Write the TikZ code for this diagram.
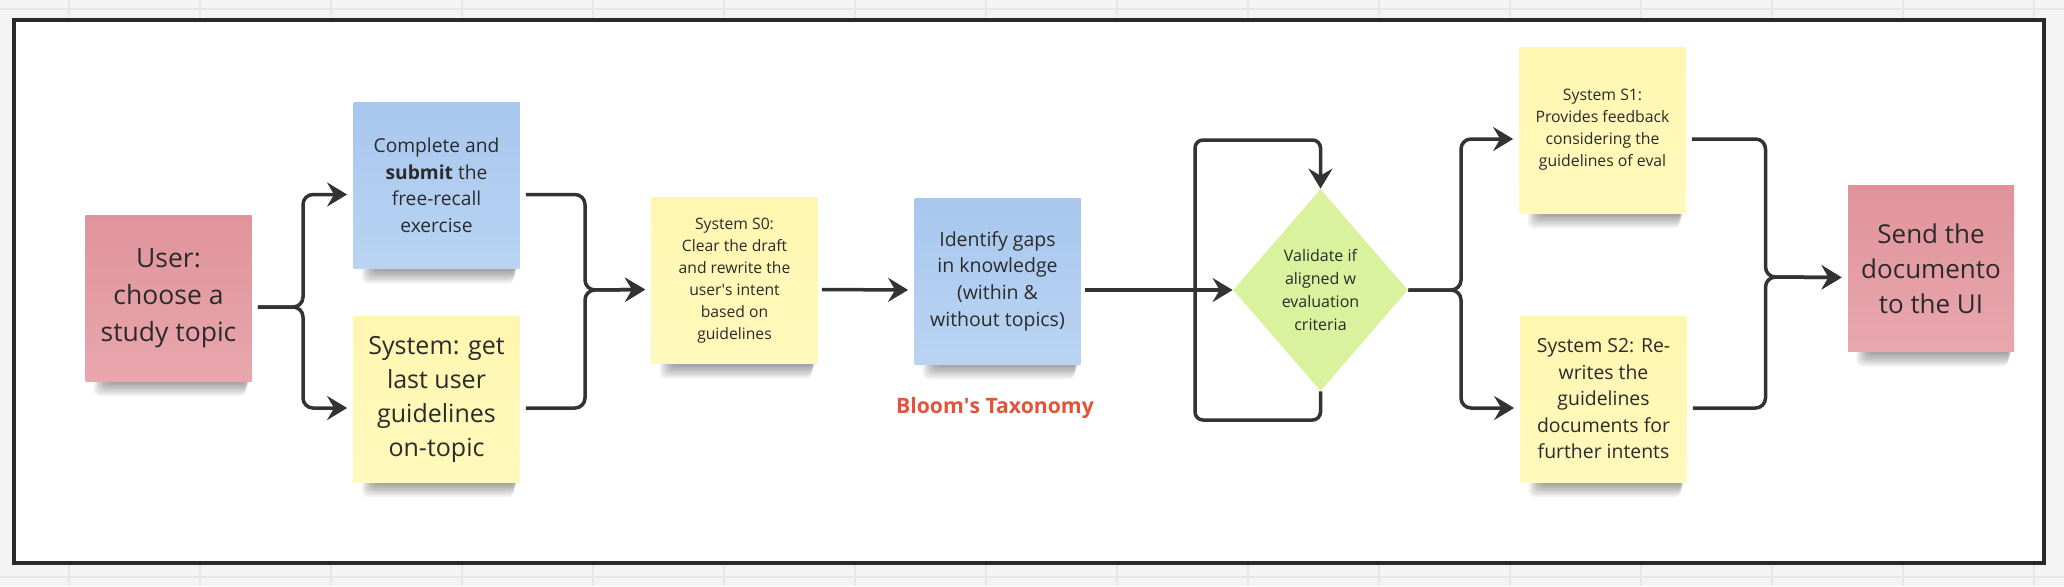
\documentclass[tikz,border=0pt]{standalone}
\usepackage{fontspec}
\setmainfont{Open Sans}
\newfontfamily\apfont{Open Sans}
\usetikzlibrary{arrows.meta,shapes.geometric,calc}
\definecolor{linec}{HTML}{333333}
\definecolor{txtc}{HTML}{2B2B2B}
\definecolor{pinkT}{HTML}{E0939A}
\definecolor{pinkB}{HTML}{E8A7AD}
\definecolor{blueT}{HTML}{A8C7EE}
\definecolor{blueB}{HTML}{B9D4F3}
\definecolor{yelT}{HTML}{FFF6B0}
\definecolor{yelB}{HTML}{FFF9BC}
\definecolor{greenc}{HTML}{DAF29E}
\definecolor{bloomc}{HTML}{E2553B}
\definecolor{gridbg}{HTML}{F4F4F4}
\definecolor{gridln}{HTML}{E6E6E6}
\definecolor{framec}{HTML}{2A2A2A}
\newcommand\fsz[2]{\fontsize{#1pt}{#2pt}\selectfont}
\newcommand\apos{{\apfont'}}
\pgfdeclarelayer{bg}
\pgfdeclarelayer{shad}
\pgfsetlayers{bg,shad,main}
\tikzset{
  note/.style={rectangle, inner sep=0pt, minimum width=83pt, minimum height=83pt, align=center, text=txtc},
  pinknote/.style={note, top color=pinkT, bottom color=pinkB},
  bluenote/.style={note, top color=blueT, bottom color=blueB},
  yelnote/.style={note, top color=yelT, bottom color=yelB},
  decision/.style={diamond, inner sep=0pt, minimum width=87.5pt, minimum height=101pt, fill=greenc, align=center, text=txtc},
  link/.style={draw=linec, line width=1.75pt, rounded corners=5pt},
  conn/.style={link, -{Stealth[length=10pt,width=12pt,inset=3.5pt]}},
}
\begin{document}
\begin{tikzpicture}[x=0.5pt,y=-0.5pt]
\useasboundingbox (0,0) rectangle (2064,586);
\begin{pgfonlayer}{bg}
  \fill[gridbg] (0,0) rectangle (2064,586);
  \foreach \gx in {69,200,...,2064} \draw[gridln, line width=0.6pt] (\gx,0) -- (\gx,586);
  \draw[gridln, line width=0.6pt] (0,9) -- (2064,9);
  \draw[gridln, line width=0.6pt] (0,577) -- (2064,577);
  \draw[framec, fill=white, line width=1.6pt] (14,20) rectangle (2044,563);
\end{pgfonlayer}

% notes
\node[pinknote, font=\fsz{13.25}{18.5}] (user) at (168.5,298) {User:\\choose a\\study topic};
\node[bluenote, font=\fsz{9.6}{13.25}] (submit) at (436.5,185.5) {Complete and\\\textbf{submit} the\\free-recall\\exercise};
\node[yelnote, font=\fsz{12.5}{17}] (getg) at (436.5,399) {System: get\\last user\\guidelines\\on-topic};
\node[yelnote, font=\fsz{7.85}{11}] (s0) at (734.5,280.5) {System S0:\\Clear the draft\\and rewrite the\\user\apos s intent\\based on\\guidelines};
\node[bluenote, font=\fsz{9.75}{13.3}] (gaps) at (997.5,281) {Identify gaps\\in knowledge\\(within \&\\without topics)};
\node[decision, font=\fsz{8}{11.5}] (valid) at (1320.5,290) {Validate if\\aligned w\\evaluation\\criteria};
\node[yelnote, font=\fsz{7.9}{11}] (s1) at (1602.5,130) {System S1:\\Provides feedback\\considering the\\guidelines of eval};
\node[yelnote, font=\fsz{9.7}{13.25}] (s2) at (1603.5,399) {System S2: Re-\\writes the\\guidelines\\documents for\\further intents};
\node[pinknote, font=\fsz{13}{17.5}] (send) at (1931,268.5) {Send the\\documento\\to the UI};
\node[text=bloomc, font=\fsz{10.6}{13}\bfseries] (bloom) at (995,408) {Bloom\apos s Taxonomy};

% shadows
\begin{pgfonlayer}{shad}
\foreach \n in {user,submit,getg,s0,gaps,s1,s2,send}{
  \foreach \i in {0,...,7}{
    \fill[black, opacity=0.05, rounded corners=3pt]
      ([xshift={10pt-0.8pt*\i}, yshift=3pt]\n.south west) rectangle
      ([xshift={-1pt-0.3pt*\i}, yshift={-1pt-0.9pt*\i}]\n.south east);
  }
}
\end{pgfonlayer}

% connectors
\coordinate (b1) at (303,307);
\coordinate (m1) at (585,290);
\coordinate (l1) at (1195,420);
\coordinate (l2) at (1195,140);
\coordinate (b2) at (1461,290);
\coordinate (m2) at (1765.5,277);

\draw[conn, shorten <=3pt, shorten >=3pt] ([yshift=-4.5pt]user.east) -- (b1) |- ([yshift=-4.5pt]submit.west);
\draw[conn, shorten <=3pt, shorten >=3pt] ([yshift=-4.5pt]user.east) -- (b1) |- ([yshift=-4.5pt]getg.west);
\draw[conn, shorten <=3pt, shorten >=3pt] ([yshift=-4.5pt]submit.east) -| (m1) -- ([yshift=-4.5pt]s0.west);
\draw[conn, shorten <=3pt, shorten >=3pt] ([yshift=-4.5pt]getg.east) -| (m1) -- ([yshift=-4.5pt]s0.west);
\draw[conn, shorten <=2pt, shorten >=3pt] ([yshift=-4.5pt]s0.east) -- ([yshift=-4.5pt]gaps.west);
\draw[conn, shorten <=2pt] ([yshift=-4.5pt]gaps.east) -- (valid.west);
\draw[conn, rounded corners=4pt] (valid.south) |- (l1) -- (l2) -| (valid.north);
\draw[conn, shorten >=3pt] (valid.east) -- (b2) |- ([yshift=-4.5pt]s1.west);
\draw[conn, shorten >=3pt] (valid.east) -- (b2) |- ([yshift=-4.5pt]s2.west);
\draw[conn, shorten <=3pt, shorten >=3pt] ([yshift=-4.5pt]s1.east) -| (m2) -- ([yshift=-4.5pt]send.west);
\draw[conn, shorten <=3pt, shorten >=3pt] ([yshift=-4.5pt]s2.east) -| (m2) -- ([yshift=-4.5pt]send.west);
\end{tikzpicture}
\end{document}
